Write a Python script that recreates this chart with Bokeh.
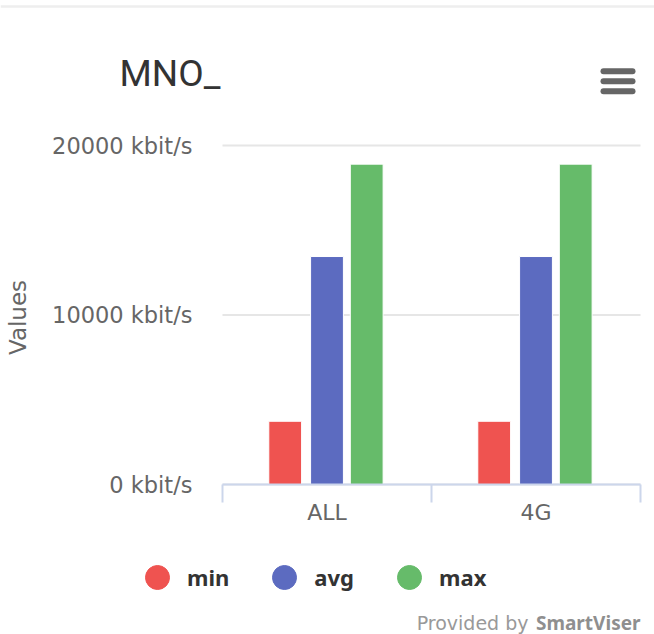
from bokeh.plotting import figure
from bokeh.models import (Range1d, LinearAxis, FixedTicker, ColumnDataSource, Label,
                          Legend, LegendItem)
from bokeh.transform import dodge
from bokeh.embed import file_html
from bokeh.resources import INLINE

# ---- data ----
categories = ["ALL", "4G"]
series_names = ["min", "avg", "max"]
min_values = [3730, 3730]
avg_values = [13450, 13450]
max_values = [18900, 18900]
y_ticks = [0, 10000, 20000]
y_tick_labels = ["0 kbit/s", "10000 kbit/s", "20000 kbit/s"]
title_text = "MNO_"
y_axis_title = "Values"
credit_prefix = "Provided by"
credit_brand = "SmartViser"

colors = ["#ef5350", "#5c6bc0", "#66bb6a"]
offsets = [-0.2, 0.0, 0.19]

# ---- layout (pixels) ----
W, H = 654, 634
FL, FR = 222, 640          # plot area left / right
Y0, YT = 484, 145          # pixel rows of first / last y tick

n_cat = len(categories)
centers = [i + 0.5 for i in range(n_cat)]
kx = n_cat / (FR - FL)
ky = (y_ticks[-1] - y_ticks[0]) / (Y0 - YT)
x_start, x_end = -FL * kx, n_cat + (W - FR) * kx
y_start, y_end = y_ticks[0] - (H - Y0) * ky, y_ticks[0] + Y0 * ky

p = figure(width=W, height=H,
           x_range=Range1d(x_start, x_end), y_range=Range1d(y_start, y_end),
           output_backend="svg", toolbar_location=None,
           x_axis_location=None, y_axis_location=None,
           min_border_left=0, min_border_right=0, min_border_top=0, min_border_bottom=0)
p.grid.visible = False
p.outline_line_color = None
p.background_fill_color = "white"
p.border_fill_color = "white"
p.extra_x_ranges = {"px": Range1d(0, W)}
p.extra_y_ranges = {"px": Range1d(H, 0)}

# grid lines across the category span
p.segment(x0=[0] * len(y_ticks), x1=[n_cat] * len(y_ticks), y0=y_ticks, y1=y_ticks,
          line_color="#e6e6e6", line_width=2, level="underlay")

# bars
source = ColumnDataSource(data=dict(pos=centers, cat=categories,
                                    min=min_values, avg=avg_values, max=max_values))
for name, col, off in zip(series_names, colors, offsets):
    p.vbar(x=dodge("pos", off), top=name, width=0.157, source=source,
           fill_color=col, line_color="white", line_width=1)

# y axis
ya = LinearAxis(fixed_location=0, ticker=FixedTicker(ticks=y_ticks),
                major_label_overrides={t: l for t, l in zip(y_ticks, y_tick_labels)},
                axis_line_color=None, major_tick_line_color=None, minor_tick_line_color=None,
                major_tick_out=0, major_tick_in=0, minor_tick_out=0, minor_tick_in=0,
                major_label_standoff=30,
                major_label_text_font="DejaVu Sans", major_label_text_font_size="22.5px",
                major_label_text_color="#666666",
                axis_label=y_axis_title, axis_label_text_font="DejaVu Sans",
                axis_label_text_font_size="23px", axis_label_text_font_style="normal",
                axis_label_text_color="#666666", axis_label_standoff=18)
p.add_layout(ya, "left")

# x axes: boundary ticks + category labels
edge_ticks = list(range(n_cat + 1))
edge_axis = LinearAxis(fixed_location=y_ticks[0], bounds=(0, n_cat),
                       ticker=FixedTicker(ticks=edge_ticks),
                       major_label_overrides={t: "" for t in edge_ticks},
                       major_label_text_font_size="1px", major_label_standoff=0,
                       major_tick_out=18, major_tick_in=0, minor_tick_out=0, minor_tick_in=0,
                       minor_tick_line_color=None,
                       axis_line_color="#ccd6eb", axis_line_width=2,
                       major_tick_line_color="#ccd6eb", major_tick_line_width=2)
p.add_layout(edge_axis, "below")
cat_axis = LinearAxis(fixed_location=y_ticks[0], bounds=(0, n_cat),
                      ticker=FixedTicker(ticks=centers),
                      major_label_overrides={c: l for c, l in zip(centers, categories)},
                      axis_line_color=None, major_tick_line_color=None,
                      minor_tick_line_color=None,
                      major_tick_out=0, major_tick_in=0, minor_tick_out=0, minor_tick_in=0,
                      major_label_standoff=15,
                      major_label_text_font="DejaVu Sans",
                      major_label_text_font_size="22px",
                      major_label_text_color="#666666")
p.add_layout(cat_axis, "below")

# legend (circle markers; helper renderers sit outside the visible area)
items = []
for name, col in zip(series_names, colors):
    r = p.scatter(x=[x_start - 10], y=[y_start - 10000], marker="circle",
                  fill_color=col, line_color=col)
    items.append(LegendItem(label=name, renderers=[r]))
legend = Legend(items=items, location=(127, 27), orientation="horizontal",
                glyph_width=60, glyph_height=60, label_standoff=-2, spacing=25,
                padding=0, margin=0, border_line_color=None, background_fill_alpha=0,
                label_text_font="Noto Sans", label_text_font_style="bold",
                label_text_font_size="22px", label_text_color="#333333")
p.add_layout(legend)

# header: separator line, title, menu icon
p.segment(x0=[0], y0=[6], x1=[W], y1=[6], line_color="#eeeeee", line_width=2.5,
          x_range_name="px", y_range_name="px")
p.add_layout(Label(x=119, y=72.5, x_range_name="px", y_range_name="px", text=title_text,
                   text_font="Roboto", text_font_size="37px", text_color="#333333",
                   text_baseline="middle", text_align="left"))
p.segment(x0=[603, 603, 603], y0=[70.7, 80.7, 90.7], x1=[632, 632, 632],
          y1=[70.7, 80.7, 90.7], line_color="#666666", line_width=6, line_cap="round",
          x_range_name="px", y_range_name="px")

# credits
p.add_layout(Label(x=528, y=622, x_range_name="px", y_range_name="px", text=credit_prefix,
                   text_font="DejaVu Sans", text_font_size="19px", text_color="#999999",
                   text_baseline="middle", text_align="right"))
p.add_layout(Label(x=640, y=622, x_range_name="px", y_range_name="px", text=credit_brand,
                   text_font="Noto Sans", text_font_style="bold", text_font_size="19px",
                   text_color="#8f8f8f", text_baseline="middle", text_align="right"))

open("out.html", "w").write(file_html(p, INLINE))
